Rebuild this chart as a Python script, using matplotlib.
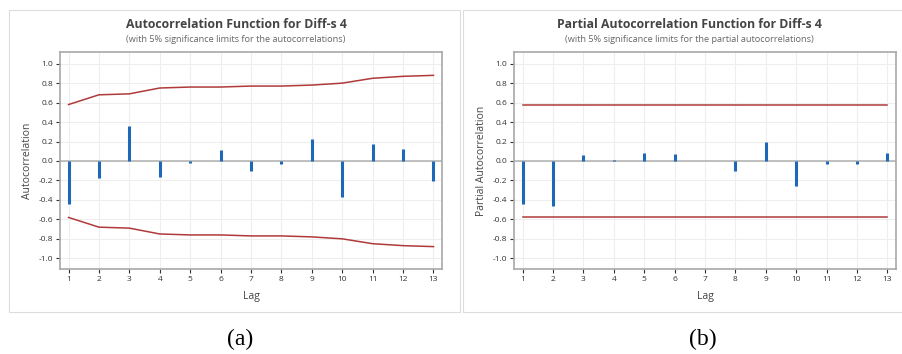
import numpy as np
import matplotlib.pyplot as plt
from matplotlib.patches import Rectangle

# Data
lags = list(range(1, 14))
acf_vals = [-0.44, -0.17, 0.36, -0.16, -0.02, 0.11, -0.10, -0.03, 0.23, -0.37, 0.17, 0.12, -0.21]
acf_limit = [0.58, 0.68, 0.69, 0.75, 0.76, 0.76, 0.77, 0.77, 0.78, 0.80, 0.85, 0.87, 0.88]
pacf_vals = [-0.44, -0.46, 0.06, 0.01, 0.08, 0.07, -0.005, -0.10, 0.19, -0.26, -0.03, -0.03, 0.08]
pacf_limit = [0.58] * 13
yticks = [-1.0, -0.8, -0.6, -0.4, -0.2, 0.0, 0.2, 0.4, 0.6, 0.8, 1.0]

BLUE = '#1f68b8'
RED = '#b03a3a'
W, H = 903, 354

plt.rcParams['font.family'] = ['Open Sans', 'DejaVu Sans']
fig = plt.figure(figsize=(W / 100, H / 100), dpi=100)


def px_axes(x0, y0, x1, y1):
    # pixel box (top-left origin) -> figure axes
    return fig.add_axes([x0 / W, 1 - y1 / H, (x1 - x0) / W, (y1 - y0) / H])


def draw_panel(ax, vals, limit, title, subtitle, ylabel, tcx):
    ax.set_xlim(0.72, 13.28)
    ax.set_ylim(-1.11, 1.12)
    ax.grid(True, color='#eeeeee', lw=0.8)
    ax.set_axisbelow(True)
    ax.axhline(0, color='#b5b5b5', lw=1.2, zorder=1)
    ax.vlines(lags, 0, vals, color=BLUE, lw=2.2, zorder=3)
    ax.plot(lags, limit, color=RED, lw=1.1, zorder=2)
    ax.plot(lags, [-v for v in limit], color=RED, lw=1.1, zorder=2)
    ax.set_xticks(lags)
    ax.set_yticks(yticks)
    ax.set_yticklabels(['%.1f' % t for t in yticks])
    ax.tick_params(labelsize=6, colors='#333333', length=3, width=0.8, pad=2)
    for s in ax.spines.values():
        s.set_color('#a8a8a8')
        s.set_linewidth(1.2)
    ax.set_xlabel('Lag', fontsize=7.5, color='#444444', labelpad=6)
    ax.set_ylabel(ylabel, fontsize=7.5, color='#444444', labelpad=4)
    fig.text(tcx / W, 1 - 25 / H, title, ha='center', va='center',
             fontsize=8.8, fontweight='bold', color='#444444')
    fig.text(tcx / W, 1 - 39 / H, subtitle, ha='center', va='center',
             fontsize=6.6, color='#666666')


# panel frames
fig.patches.append(Rectangle((9 / W, 1 - 312 / H), 451 / W, 302 / H,
                             transform=fig.transFigure, fill=False,
                             ec='#dddddd', lw=0.8))
fig.patches.append(Rectangle((463 / W, 1 - 312 / H), 445 / W, 302 / H,
                             transform=fig.transFigure, fill=False,
                             ec='#dddddd', lw=0.8))

ax1 = px_axes(60, 52, 442, 269)
draw_panel(ax1, acf_vals, acf_limit,
           'Autocorrelation Function for Diff-s 4',
           '(with 5% significance limits for the autocorrelations)',
           'Autocorrelation', 236)

ax2 = px_axes(514, 52, 896, 269)
draw_panel(ax2, pacf_vals, pacf_limit,
           'Partial Autocorrelation Function for Diff-s 4',
           '(with 5% significance limits for the partial autocorrelations)',
           'Partial Autocorrelation', 689)

fig.text(240 / W, 1 - 339 / H, '(a)', ha='center', va='center', fontsize=17,
         family=['Liberation Serif', 'DejaVu Serif'])
fig.text(703 / W, 1 - 339 / H, '(b)', ha='center', va='center', fontsize=17,
         family=['Liberation Serif', 'DejaVu Serif'])

fig.savefig('out.png', dpi=100)
